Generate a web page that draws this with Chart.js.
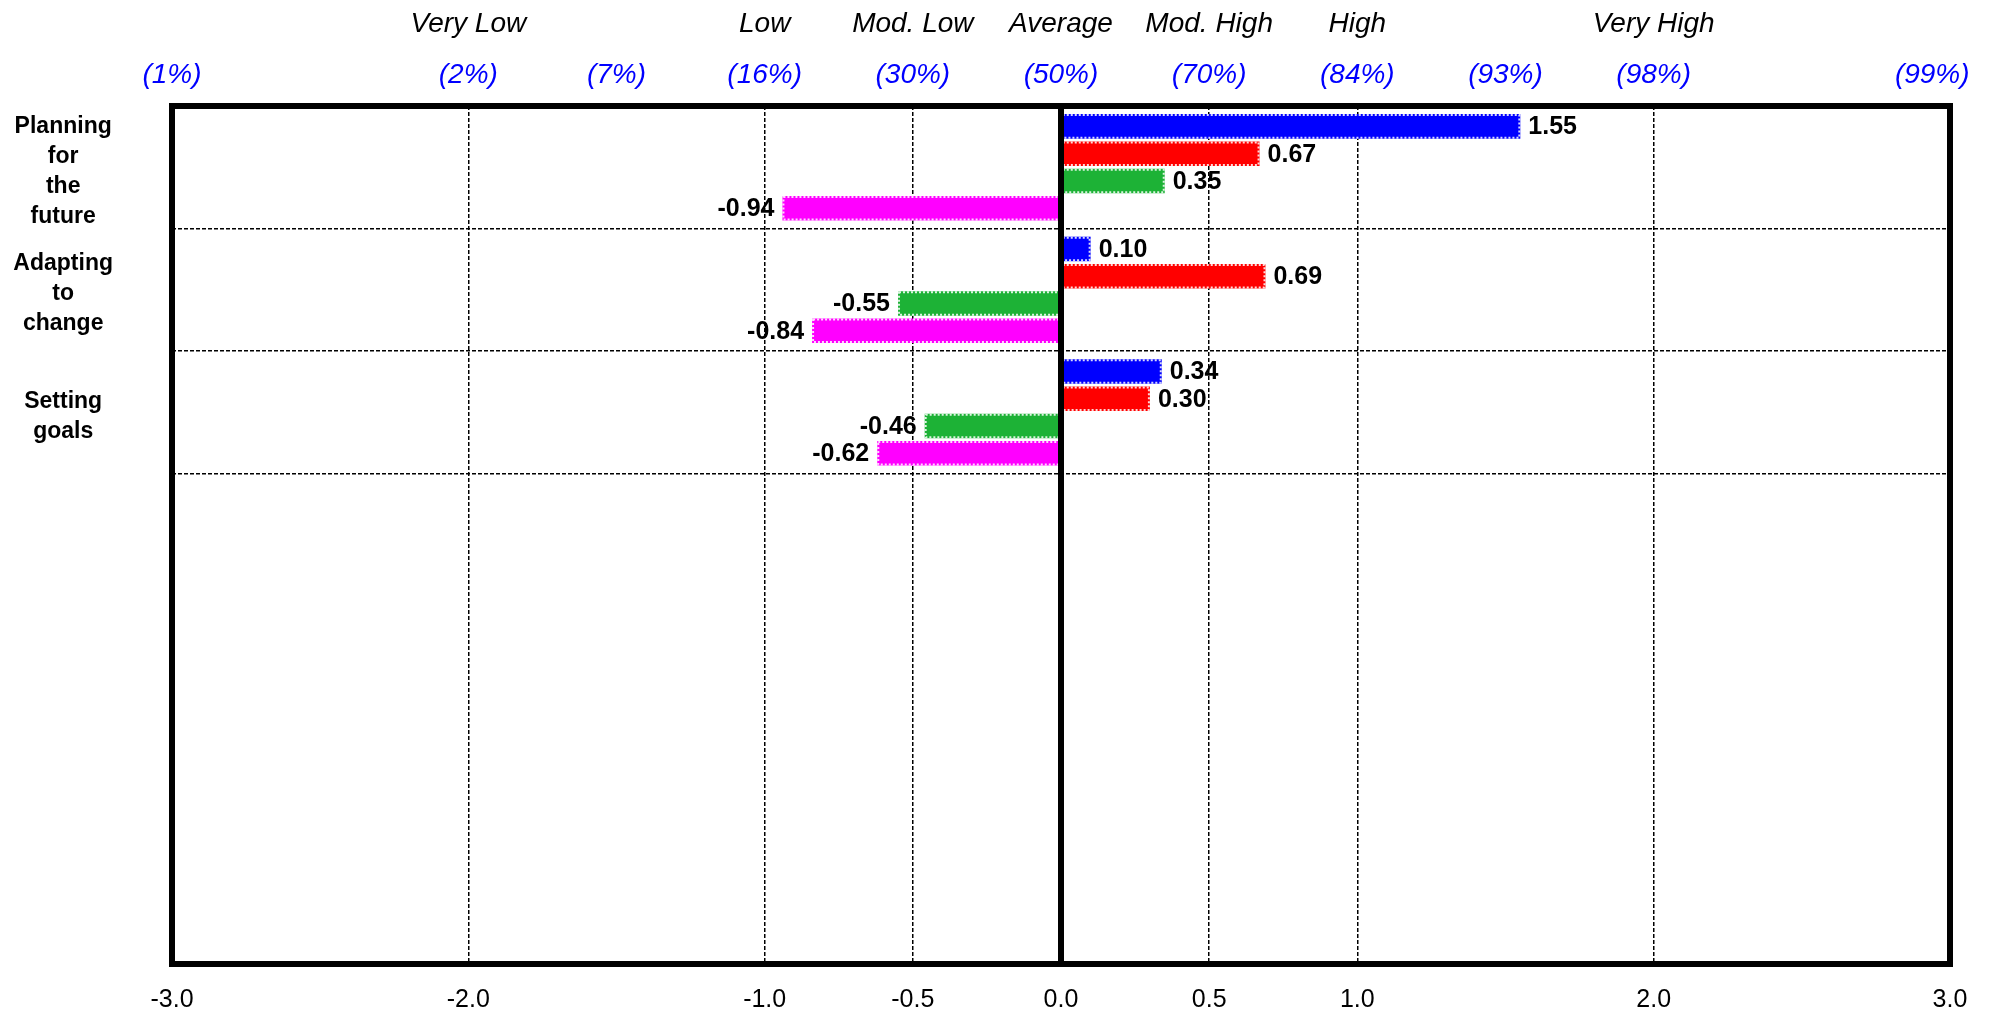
<!DOCTYPE html>
<html>
<head>
<meta charset="utf-8">
<script src="https://cdn.jsdelivr.net/npm/chart.js@4.4.0/dist/chart.umd.min.js"></script>
<style>
body { margin: 0; background: #fff; }
#wrap { width: 2013px; height: 1015px; }
</style>
</head>
<body>
<div id="wrap"><canvas id="scoreChart"></canvas></div>
<script>
// Scores
const categories = [['Planning', 'for', 'the', 'future'], ['Adapting', 'to', 'change'], ['Setting', 'goals'], '', '', '', ''];
const blueValues = [1.55, 0.10, 0.34];
const redValues = [0.67, 0.69, 0.30];
const greenValues = [0.35, -0.55, -0.46];
const magentaValues = [-0.94, -0.84, -0.62];

// Axis ticks
const scoreTicks = [-3, -2, -1, -0.5, 0, 0.5, 1, 2, 3];
const percentTicks = [-3, -2, -1.5, -1, -0.5, 0, 0.5, 1, 1.5, 2, 2.94];
const percentLabels = ['(1%)', '(2%)', '(7%)', '(16%)', '(30%)', '(50%)', '(70%)', '(84%)', '(93%)', '(98%)', '(99%)'];
const levelTicks = [-2, -1, -0.5, 0, 0.5, 1, 2];
const levelLabels = ['Very Low', 'Low', 'Mod. Low', 'Average', 'Mod. High', 'High', 'Very High'];

Chart.defaults.font.family = '"Liberation Sans", Arial, sans-serif';
Chart.defaults.color = '#000';

// bar edges, value labels, zero line and frame
const frameAndLabels = {
    id: 'frameAndLabels',
    afterDatasetsDraw(chart) {
        const ctx = chart.ctx;
        const area = chart.chartArea;
        chart.data.datasets.forEach((ds, i) => {
            const meta = chart.getDatasetMeta(i);
            meta.data.forEach((bar, j) => {
                const v = ds.data[j];
                if (v == null) return;
                const p = bar.getProps(['x', 'y', 'base', 'height'], true);
                const l = Math.min(p.x, p.base), r = Math.max(p.x, p.base);
                const t = p.y - p.height / 2;
                ctx.save();
                ctx.strokeStyle = 'rgba(255,255,255,0.85)';
                ctx.lineWidth = 2;
                ctx.setLineDash([2, 2]);
                ctx.strokeRect(l + 1, t + 1, r - l - 2, p.height - 2);
                ctx.restore();

                ctx.save();
                ctx.font = 'bold 25px "Liberation Sans", Arial, sans-serif';
                ctx.fillStyle = '#000';
                ctx.textBaseline = 'middle';
                ctx.textAlign = v >= 0 ? 'left' : 'right';
                ctx.fillText(v.toFixed(2), v >= 0 ? p.x + 8 : p.x - 8, p.y + 1);
                ctx.restore();
            });
        });
        ctx.save();
        ctx.strokeStyle = '#000';
        ctx.lineWidth = 6;
        const zx = chart.scales.x.getPixelForValue(0);
        ctx.beginPath();
        ctx.moveTo(zx, area.top);
        ctx.lineTo(zx, area.bottom);
        ctx.stroke();
        ctx.strokeRect(area.left, area.top, area.right - area.left, area.bottom - area.top);
        ctx.restore();
    }
};

const ctx = document.getElementById('scoreChart').getContext('2d');
const scoreChart = new Chart(ctx, {
    type: 'bar',
    data: {
        labels: categories,
        datasets: [
            { data: blueValues, backgroundColor: '#0000ff' },
            { data: redValues, backgroundColor: '#ff0000' },
            { data: greenValues, backgroundColor: '#1db236' },
            { data: magentaValues, backgroundColor: '#ff00ff' }
        ]
    },
    options: {
        indexAxis: 'y',
        responsive: true,
        maintainAspectRatio: false,
        animation: false,
        categoryPercentage: 0.89,
        barPercentage: 0.9,
        layout: { padding: { left: 13, right: 63, top: 2, bottom: 0 } },
        plugins: {
            legend: { display: false },
            tooltip: { enabled: false }
        },
        scales: {
            x: {
                type: 'linear',
                position: 'bottom',
                min: -3,
                max: 3,
                afterBuildTicks: s => { s.ticks = scoreTicks.map(v => ({ value: v })); },
                afterFit: s => { s.height = 51; },
                ticks: {
                    autoSkip: false,
                    maxRotation: 0,
                    padding: 21,
                    font: { size: 25 },
                    callback: v => v.toFixed(1)
                },
                grid: {
                    drawTicks: false,
                    lineWidth: 1.5,
                    color: c => (c.tick && [-2, -1, -0.5, 0.5, 1, 2].includes(c.tick.value)) ? '#000' : 'rgba(0,0,0,0)'
                },
                border: { display: false, dash: [4, 2] }
            },
            xPct: {
                type: 'linear',
                position: 'top',
                weight: 1,
                min: -3,
                max: 3,
                afterBuildTicks: s => { s.ticks = percentTicks.map(v => ({ value: v })); },
                afterFit: s => { s.height = 50; },
                ticks: {
                    autoSkip: false,
                    maxRotation: 0,
                    padding: 14,
                    color: '#0000ff',
                    font: { size: 28, style: 'italic' },
                    callback: (v, i) => percentLabels[i]
                },
                grid: { display: false, drawTicks: false },
                border: { display: false }
            },
            xLvl: {
                type: 'linear',
                position: 'top',
                weight: 2,
                min: -3,
                max: 3,
                afterBuildTicks: s => { s.ticks = levelTicks.map(v => ({ value: v })); },
                afterFit: s => { s.height = 54; },
                ticks: {
                    autoSkip: false,
                    maxRotation: 0,
                    padding: 15,
                    color: '#000',
                    font: { size: 28, style: 'italic' },
                    callback: (v, i) => levelLabels[i]
                },
                grid: { display: false, drawTicks: false },
                border: { display: false }
            },
            y: {
                type: 'category',
                afterFit: s => {
                    s.width = 159;
                    // multi-line labels would otherwise push the plot bottom up
                    s.paddingTop = 0;
                    s.paddingBottom = 0;
                },
                ticks: {
                    autoSkip: false,
                    padding: 59,
                    labelOffset: 4,
                    crossAlign: 'center',
                    font: { size: 23, weight: 'bold', lineHeight: 30 / 23 }
                },
                grid: {
                    drawTicks: false,
                    lineWidth: 1.5,
                    color: c => (c.index >= 1 && c.index <= 3) ? '#000' : 'rgba(0,0,0,0)'
                },
                border: { display: false, dash: [4, 2] }
            }
        }
    },
    plugins: [frameAndLabels]
});
</script>
</body>
</html>
